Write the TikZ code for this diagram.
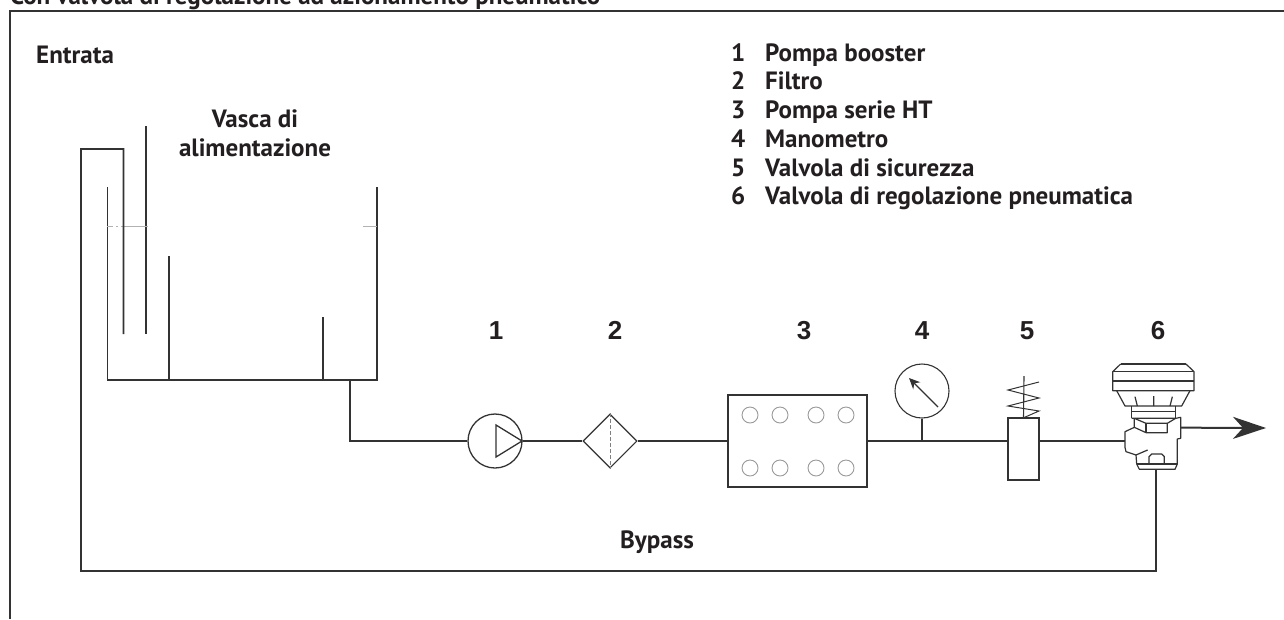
\documentclass[tikz,border=0pt]{standalone}
\usepackage{fontspec}
\setmainfont{PT Sans}
\newfontfamily\numfont{Liberation Sans}
\usetikzlibrary{shapes.geometric,arrows.meta}
\definecolor{ink}{HTML}{231F20}
\definecolor{wire}{HTML}{333333}
\tikzset{
  x=1pt,y=-1pt,
  wireline/.style={draw=wire,line width=1.8pt,line join=miter},
  lab/.style={inner sep=0pt,anchor=base west,text=ink,font=\fontsize{25}{25}\selectfont\bfseries},
  clab/.style={inner sep=0pt,anchor=base,text=ink,font=\fontsize{25}{29}\selectfont\bfseries,align=center},
  numlab/.style={inner sep=0pt,anchor=base,text=ink,font=\numfont\fontsize{26}{26}\selectfont\bfseries},
  hole/.style={circle,draw=gray!80,line width=0.9pt,minimum size=16pt,inner sep=0pt},
}
\begin{document}
\begin{tikzpicture}
\useasboundingbox (0,0) rectangle (1284,619);
\clip (0,0) rectangle (1284,619);
\fill[white] (0,0) rectangle (1284,619);
% frame and title
\node[lab] (title) at (10,4) {Con valvola di regolazione ad azionamento pneumatico};
\draw[draw=wire,line width=1.4pt] (1284,11) -- (10,11) -- (10,619);
% labels
\node[lab] (entrata) at (36,63) {Entrata};
\node[clab] (vasca) at (255,156) {Vasca di\\alimentazione};
\node[lab] (bypass) at (620,548) {Bypass};
\foreach \n/\t/\y in {1/Pompa booster/61,2/Filtro/89,3/Pompa serie HT/118,4/Manometro/147,5/Valvola di sicurezza/176,6/Valvola di regolazione pneumatica/204}{
  \node[lab] (ln\n) at (731,\y) {\n};
  \node[lab] (lt\n) at (765,\y) {\t};
}
\foreach \n/\x in {1/496,2/615,3/804,4/922,5/1027,6/1158}
  \node[numlab] (num\n) at (\x,339) {\n};
% tank
\coordinate (tankL) at (107.5,187);
\coordinate (tankBL) at (107.5,380);
\coordinate (tankBR) at (377,380);
\coordinate (tankR) at (377,187);
\coordinate (tankOut) at (350,380);
\draw[wireline] (tankL) -- (tankBL) -- (tankBR) -- (tankR);
\draw[wireline] (169,256) -- (169,380);
\draw[wireline,line width=1.3pt] (323,317) -- (323,380);
\draw[wireline,line width=1.3pt] (146,126) -- (146,334);
\draw[gray!60,line width=1pt] (107,226) -- (113,226);
\draw[gray!60,line width=1pt] (116,226) -- (118,226);
\draw[gray!60,line width=1pt] (121,226) -- (148,226);
\draw[gray!60,line width=1pt] (363,226) -- (377,226);
% pump
\node[circle,draw=wire,line width=1.3pt,minimum size=54pt,inner sep=0pt] (pump) at (495,441) {};
\draw[draw=wire,line width=1.3pt,line join=miter] (496,425) -- (522,441) -- (496,457) -- cycle;
% filter
\node[diamond,draw=wire,line width=1.1pt,minimum width=54pt,minimum height=54pt,inner sep=0pt] (filter) at (610,441) {};
\draw[gray,line width=0.8pt,dash pattern=on 4pt off 2pt] (filter.north) -- (filter.south);
% HT pump
\node[rectangle,draw=wire,line width=1.8pt,minimum width=139pt,minimum height=92pt,inner sep=0pt] (ht) at (797.5,441) {};
\foreach \x [count=\i] in {750,780,816,846}{
  \node[hole] (ha\i) at (\x,415) {};
  \node[hole] (hb\i) at (\x,468) {};
}
% gauge
\node[circle,draw=wire,line width=1.1pt,minimum size=54pt,inner sep=0pt] (gauge) at (922,391) {};
\coordinate (gaugeBase) at (922,441);
\draw[wire,line width=1.1pt,-{Stealth[length=11pt,width=10pt]}] (938,407) -- (909,378);
% relief valve
\node[rectangle,draw=wire,line width=1.3pt,minimum width=31pt,minimum height=62pt,inner sep=0pt] (relief) at (1023.5,449) {};
\draw[wire,line width=1.1pt] (1024,376) -- (relief.north);
\draw[wire,line width=1pt] (1039,382) -- (1008,390) -- (1039,398) -- (1008,406) -- (1039,411) -- (1023,418);
% control valve
\begin{scope}[shift={(1080,340)},x=0.3333pt,y=-0.3333pt,draw=wire,line width=1.2pt,line join=round]
  \draw[line width=2pt] (122,72) -- (318,72);
  \draw (122,72) -- (98,95) -- (98,152) -- (342,152) -- (342,95) -- (318,72);
  \draw (98,95) -- (342,95) (98,123) -- (342,123);
  \draw (110,152) -- (135,198) -- (305,198) -- (330,152);
  \draw (165,170) -- (172,198) (221,168) -- (221,198) (277,170) -- (270,198);
  \draw (155,198) -- (155,235) (287,198) -- (287,235) (155,215) -- (287,215);
  \draw (155,235) -- (163,235) -- (198,250) -- (262,250) -- (287,235) -- (163,235);
  \draw (287,235) -- (302,232) -- (302,295) -- (292,297) -- (292,372) -- (285,388) -- (178,388) -- (170,372) -- (168,345) -- (138,335) -- (135,322) -- (135,275) -- (163,262) -- (163,235);
  \draw (163,262) -- (198,278) -- (262,278) -- (262,250);
  \draw (198,250) -- (198,278);
  \draw (170,372) -- (292,372);
  \draw (168,345) -- (203,330);
  \draw (207,372) -- (207,350) -- (215,342) -- (245,342) -- (253,350) -- (253,372);
  \coordinate (vIn) at (135,303);
  \coordinate (vOut) at (302,263);
  \coordinate (vBot) at (228,388);
\end{scope}
\coordinate (arrowEnd) at (1266,428);
% connectors
\coordinate (tankTurn) at (350,441);
\draw[wireline] (tankOut) -- (tankTurn) -- (pump.west);
\draw[wireline] (pump.east) -- (filter.west);
\draw[wireline] (filter.east) -- (ht.west);
\draw[wireline] (ht.east) -- (relief.west |- ht.east);
\draw[wireline] (relief.east |- vIn) -- (vIn);
\draw[wireline] (gauge.south) -- (gaugeBase);
\draw[wireline,line width=2pt,-{Stealth[length=33pt,width=22pt,inset=10pt]}] (vOut) -- (arrowEnd);
\coordinate (byA) at (1156,571);
\coordinate (byB) at (81,571);
\coordinate (byC) at (81,149);
\coordinate (byD) at (123.5,149);
\coordinate (byE) at (123.5,334);
\draw[wireline] (vBot) -- (byA) -- (byB) -- (byC) -- (byD) -- (byE);
\end{tikzpicture}
\end{document}
